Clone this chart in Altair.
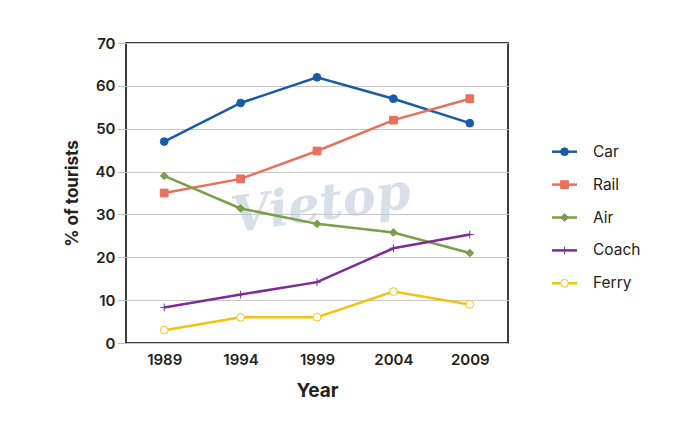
import altair as alt
import pandas as pd

years = [1989, 1994, 1999, 2004, 2009]
series = ["Car", "Rail", "Air", "Coach", "Ferry"]
car = [47, 56, 62, 57, 51.3]
rail = [35, 38.3, 44.8, 52, 57]
air = [39, 31.4, 27.8, 25.8, 21]
coach = [8.3, 11.3, 14.2, 22.1, 25.3]
ferry = [3, 6, 6, 12, 9]

colors = ["#1a5aa6", "#e8705c", "#7a9f4a", "#7b2d98", "#f2c40f"]
fills = ["#1a5aa6", "#e8705c", "#7a9f4a", "transparent", "#ffffff"]
plus = "M-1,0H1M0,-1V1"
shapes = ["circle", "square", "diamond", plus, "circle"]
sizes = [60, 60, 100, 90, 60]
strokes_w = [1, 1, 1, 2.2, 2.2]

rows = []
for name, vals in zip(series, [car, rail, air, coach, ferry]):
    for y, v in zip(years, vals):
        rows.append({"year": y, "series": name, "value": v})
df = pd.DataFrame(rows)
leg = pd.DataFrame({"series": series})

sdom = alt.Scale(domain=series, range=colors)
fill_s = alt.Scale(domain=series, range=fills)
shape_s = alt.Scale(domain=series, range=shapes)
size_s = alt.Scale(domain=series, range=sizes)
sw_s = alt.Scale(domain=series, range=strokes_w)

x = alt.X("year:O", scale=alt.Scale(type="point", padding=0.5),
          axis=alt.Axis(title="Year", labelAngle=0, ticks=False, domain=False,
                        grid=False, labelPadding=9, labelFontSize=15,
                        labelFontWeight=600, labelColor="#222",
                        titleFontSize=19, titleFontWeight=700, titleColor="#222",
                        titlePadding=14))
y = alt.Y("value:Q", scale=alt.Scale(domain=[0, 70], nice=False),
          axis=alt.Axis(title="% of tourists", values=list(range(0, 71, 10)),
                        domain=False, grid=True, gridColor="#c8c8c8",
                        tickColor="#c0c0c0", tickSize=9, labelPadding=2,
                        labelFontSize=15, labelFontWeight=600, labelColor="#222",
                        titleFontSize=17, titleFontWeight=700, titleColor="#222",
                        titlePadding=14))

base = alt.Chart(df)
lines = base.mark_line(strokeWidth=2.5).encode(
    x=x, y=y, color=alt.Color("series:N", scale=sdom, legend=None),
    detail="series:N")
points = base.mark_point(filled=True, opacity=1).encode(
    x=x, y=y,
    shape=alt.Shape("series:N", scale=shape_s, legend=None),
    fill=alt.Fill("series:N", scale=fill_s, legend=None),
    stroke=alt.Stroke("series:N", scale=sdom, legend=None),
    size=alt.Size("series:N", scale=size_s, legend=None),
    strokeWidth=alt.StrokeWidth("series:N", scale=sw_s, legend=None))

watermark = alt.Chart(pd.DataFrame({"t": ["Vietop"]})).mark_text(
    font="DejaVu Serif", fontStyle="italic", fontWeight="bold", fontSize=50,
    color="#b8c6d8", opacity=0.55, angle=352).encode(
    text="t:N", x=alt.value(195), y=alt.value(162))

main = alt.layer(watermark, lines, points)

ly = alt.Y("series:N", scale=alt.Scale(type="point", domain=series,
                                        range=[108.7, 240.3], padding=0),
           axis=None)
lb = alt.Chart(leg)
lrule = lb.mark_rule(strokeWidth=2.5).encode(
    y=ly, x=alt.value(426), x2=alt.value(451),
    color=alt.Color("series:N", scale=sdom, legend=None))
lpts = lb.mark_point(filled=True, opacity=1).encode(
    y=ly, x=alt.value(438.5),
    shape=alt.Shape("series:N", scale=shape_s, legend=None),
    fill=alt.Fill("series:N", scale=fill_s, legend=None),
    stroke=alt.Stroke("series:N", scale=sdom, legend=None),
    size=alt.Size("series:N", scale=size_s, legend=None),
    strokeWidth=alt.StrokeWidth("series:N", scale=sw_s, legend=None))
ltext = lb.mark_text(align="left", baseline="middle", fontSize=15.5,
                     color="#222").encode(y=ly, x=alt.value(467), text="series:N")
legend = alt.layer(lrule, lpts, ltext)

chart = alt.layer(main, legend).resolve_scale(y="independent").properties(
    width=382, height=300,
    autosize=alt.AutoSizeParams(type="none"),
    padding={"left": 126, "top": 43, "right": 192, "bottom": 93},
).configure(font="Inter").configure_view(stroke="#3c3c3c", strokeWidth=2)

chart.save("out.html", embed_options={"renderer": "svg", "actions": False})
